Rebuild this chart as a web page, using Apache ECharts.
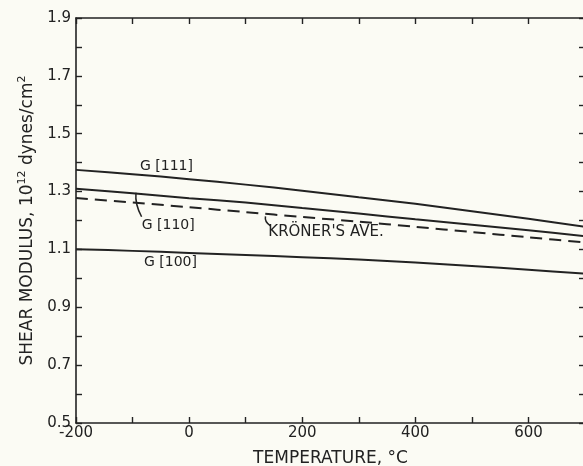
<!DOCTYPE html>
<html>
<head>
<meta charset="utf-8">
<script src="https://cdn.jsdelivr.net/npm/echarts@6/dist/echarts.min.js"></script>
<style>
html,body{margin:0;padding:0;background:#fbfbf4;}
#c{width:583px;height:466px;}
</style>
</head>
<body>
<div id="c"></div>
<script>
const temps = [-200, -100, 0, 100, 200, 300, 400, 500, 600, 700];
const g111 = [1.375, 1.360, 1.343, 1.324, 1.303, 1.280, 1.258, 1.232, 1.206, 1.178];
const g110 = [1.310, 1.294, 1.277, 1.262, 1.243, 1.224, 1.204, 1.185, 1.166, 1.146];
const kroner = [1.278, 1.262, 1.246, 1.229, 1.212, 1.196, 1.178, 1.160, 1.142, 1.124];
const g100 = [1.101, 1.095, 1.088, 1.081, 1.073, 1.065, 1.055, 1.043, 1.030, 1.016];
const xLabelValues = [-200, 0, 200, 400, 600];
const yLabelValues = [0.5, 0.7, 0.9, 1.1, 1.3, 1.5, 1.7, 1.9];
// annotation anchors in data coordinates
const seriesLabels = [
  {text: 'G [111]', x: -40, y: 1.386, size: 14},
  {text: 'G [110]', x: -37, y: 1.182, size: 14},
  {text: 'G [100]', x: -33, y: 1.057, size: 14}
];
const kronerLabel = {text: "KRÖNER'S AVE.", x: 140, y: 1.161, size: 15};
const leader110 = [[-94, 1.296], [-96, 1.256], [-84, 1.213]];
const leaderKr = [[135, 1.214], [133, 1.195], [144, 1.181]];

const ink = '#222222';
const font = 'DejaVu Sans';
const chart = echarts.init(document.getElementById('c'));
const pairs = arr => temps.map((t, i) => [t, arr[i]]);
const near = (v, list) => list.some(l => Math.abs(l - v) < 1e-6);

chart.setOption({
  backgroundColor: '#fbfbf4',
  animation: false,
  textStyle: {fontFamily: font, color: ink},
  grid: {left: 76, top: 18, width: 509, height: 405, outerBoundsMode: 'none', containLabel: false},
  xAxis: [{
    type: 'value', min: -200, max: 700, interval: 100,
    axisLine: {onZero: false, lineStyle: {color: ink, width: 1.6}},
    axisTick: {inside: true, length: 6, lineStyle: {color: ink, width: 1.4}},
    splitLine: {show: false},
    axisLabel: {color: ink, fontSize: 15, fontFamily: font, margin: 3,
      formatter: v => near(v, xLabelValues) ? String(Math.round(v)) : ''},
    name: 'TEMPERATURE, °C', nameLocation: 'middle', nameGap: 27,
    nameTextStyle: {fontSize: 17, fontFamily: font, color: ink}
  }, {
    type: 'value', position: 'top', min: -200, max: 700, interval: 100,
    axisLine: {onZero: false, lineStyle: {color: ink, width: 1.6}},
    axisTick: {inside: true, length: 6, lineStyle: {color: ink, width: 1.4}},
    axisLabel: {show: false}, splitLine: {show: false}
  }],
  yAxis: [{
    type: 'value', min: 0.5, max: 1.9, interval: 0.1,
    axisLine: {onZero: false, lineStyle: {color: ink, width: 1.6}},
    axisTick: {inside: true, length: 6, lineStyle: {color: ink, width: 1.4}},
    splitLine: {show: false},
    axisLabel: {color: ink, fontSize: 15, fontFamily: font, margin: 5,
      formatter: v => near(v, yLabelValues) ? v.toFixed(1) : ''},
    name: '{a|SHEAR MODULUS, 10}{s|12}{a| dynes/cm}{s|2}',
    nameLocation: 'middle', nameGap: 35, nameRotate: 90,
    nameTextStyle: {
      fontFamily: font, color: ink,
      rich: {
        a: {fontSize: 17, fontFamily: font, color: ink, lineHeight: 22},
        s: {fontSize: 11, fontFamily: font, color: ink, verticalAlign: 'top', lineHeight: 12}
      }
    }
  }, {
    type: 'value', position: 'right', min: 0.5, max: 1.9, interval: 0.1,
    axisLine: {onZero: false, lineStyle: {color: ink, width: 1.6}},
    axisTick: {inside: true, length: 6, lineStyle: {color: ink, width: 1.4}},
    axisLabel: {show: false}, splitLine: {show: false}
  }],
  series: [
    {type: 'line', data: pairs(g111), showSymbol: false, smooth: 0.3, lineStyle: {color: ink, width: 2}},
    {type: 'line', data: pairs(g110), showSymbol: false, smooth: 0.3, lineStyle: {color: ink, width: 2}},
    {type: 'line', data: pairs(kroner), showSymbol: false, smooth: 0.3, lineStyle: {color: ink, width: 2, type: [12, 7]}},
    {type: 'line', data: pairs(g100), showSymbol: false, smooth: 0.3, lineStyle: {color: ink, width: 2}}
  ]
});

const px = p => chart.convertToPixel({gridIndex: 0}, p);
const graphics = [];
seriesLabels.forEach(l => {
  const p = px([l.x, l.y]);
  graphics.push({type: 'text', x: p[0], y: p[1], style: {text: l.text, fontSize: l.size, fontFamily: font, fill: ink, align: 'center', verticalAlign: 'middle'}});
});
{
  const p = px([kronerLabel.x, kronerLabel.y]);
  graphics.push({type: 'text', x: p[0], y: p[1], style: {text: kronerLabel.text, fontSize: kronerLabel.size, fontFamily: font, fill: ink, align: 'left', verticalAlign: 'middle'}});
}
[leader110, leaderKr].forEach(ld => {
  const a = px(ld[0]), c = px(ld[1]), b = px(ld[2]);
  graphics.push({type: 'bezierCurve', shape: {x1: a[0], y1: a[1], cpx1: c[0], cpy1: c[1], x2: b[0], y2: b[1]}, style: {stroke: ink, lineWidth: 1.5, fill: null}});
});
chart.setOption({graphic: graphics});
</script>
</body>
</html>
